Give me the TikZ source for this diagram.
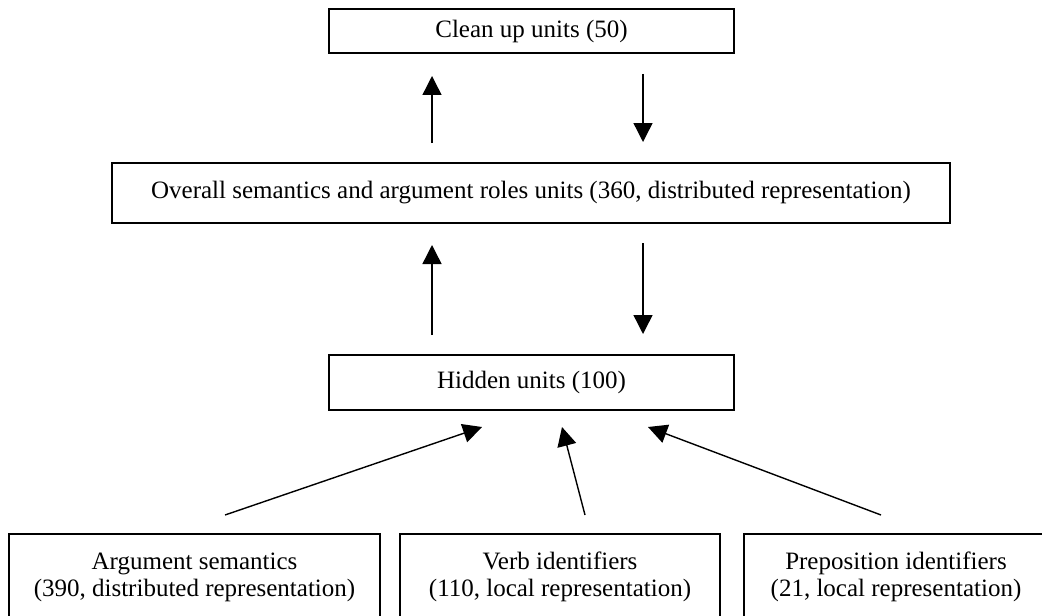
\documentclass[tikz,border=0pt]{standalone}
\usepackage{fontspec}
\setmainfont{Liberation Serif}
\usetikzlibrary{arrows.meta}
\tikzset{
  unitbox/.style={draw=black, line width=1pt, inner sep=0pt, outer sep=0pt, align=center,
    font=\fontsize{12.5pt}{13.5pt}\selectfont},
  arr/.style={line width=0.7pt, -{Triangle[length=9.5pt,width=9.5pt]}}
}
\begin{document}
\begin{tikzpicture}[x=0.5pt,y=-0.5pt]
\useasboundingbox (0,0) rectangle (1042,615);
\clip (0,0) rectangle (1042,615);
\node[unitbox, minimum width=202.5pt, minimum height=22pt] (clean) at (531.5,31) {Clean up units (50)};
\node[unitbox, minimum width=419pt, minimum height=30pt] (overall) at (531,193) {Overall semantics and argument roles units (360, distributed representation)};
\node[unitbox, minimum width=202.5pt, minimum height=27.5pt] (hidden) at (531.5,382.5) {Hidden units (100)};
\node[unitbox, minimum width=185.5pt, minimum height=43pt] (arg) at (194.5,577) {Argument semantics\\(390, distributed representation)};
\node[unitbox, minimum width=160pt, minimum height=43pt] (verb) at (560,577) {Verb identifiers\\(110, local representation)};
\node[unitbox, minimum width=152pt, minimum height=43pt] (prep) at (896,577) {Preposition identifiers\\(21, local representation)};
\coordinate (u1s) at (432,143); \coordinate (u1e) at (432,76);
\coordinate (d1s) at (643,74);  \coordinate (d1e) at (643,142);
\coordinate (u2s) at (432,335); \coordinate (u2e) at (432,245);
\coordinate (d2s) at (643,243); \coordinate (d2e) at (643,334);
\coordinate (a1s) at (225,515); \coordinate (a1e) at (482,427);
\coordinate (a2s) at (585,515); \coordinate (a2e) at (562,427);
\coordinate (a3s) at (881,515); \coordinate (a3e) at (648,427);
\draw[arr] (u1s) -- (u1e);
\draw[arr] (d1s) -- (d1e);
\draw[arr] (u2s) -- (u2e);
\draw[arr] (d2s) -- (d2e);
\draw[arr] (a1s) -- (a1e);
\draw[arr] (a2s) -- (a2e);
\draw[arr] (a3s) -- (a3e);
\end{tikzpicture}
\end{document}
